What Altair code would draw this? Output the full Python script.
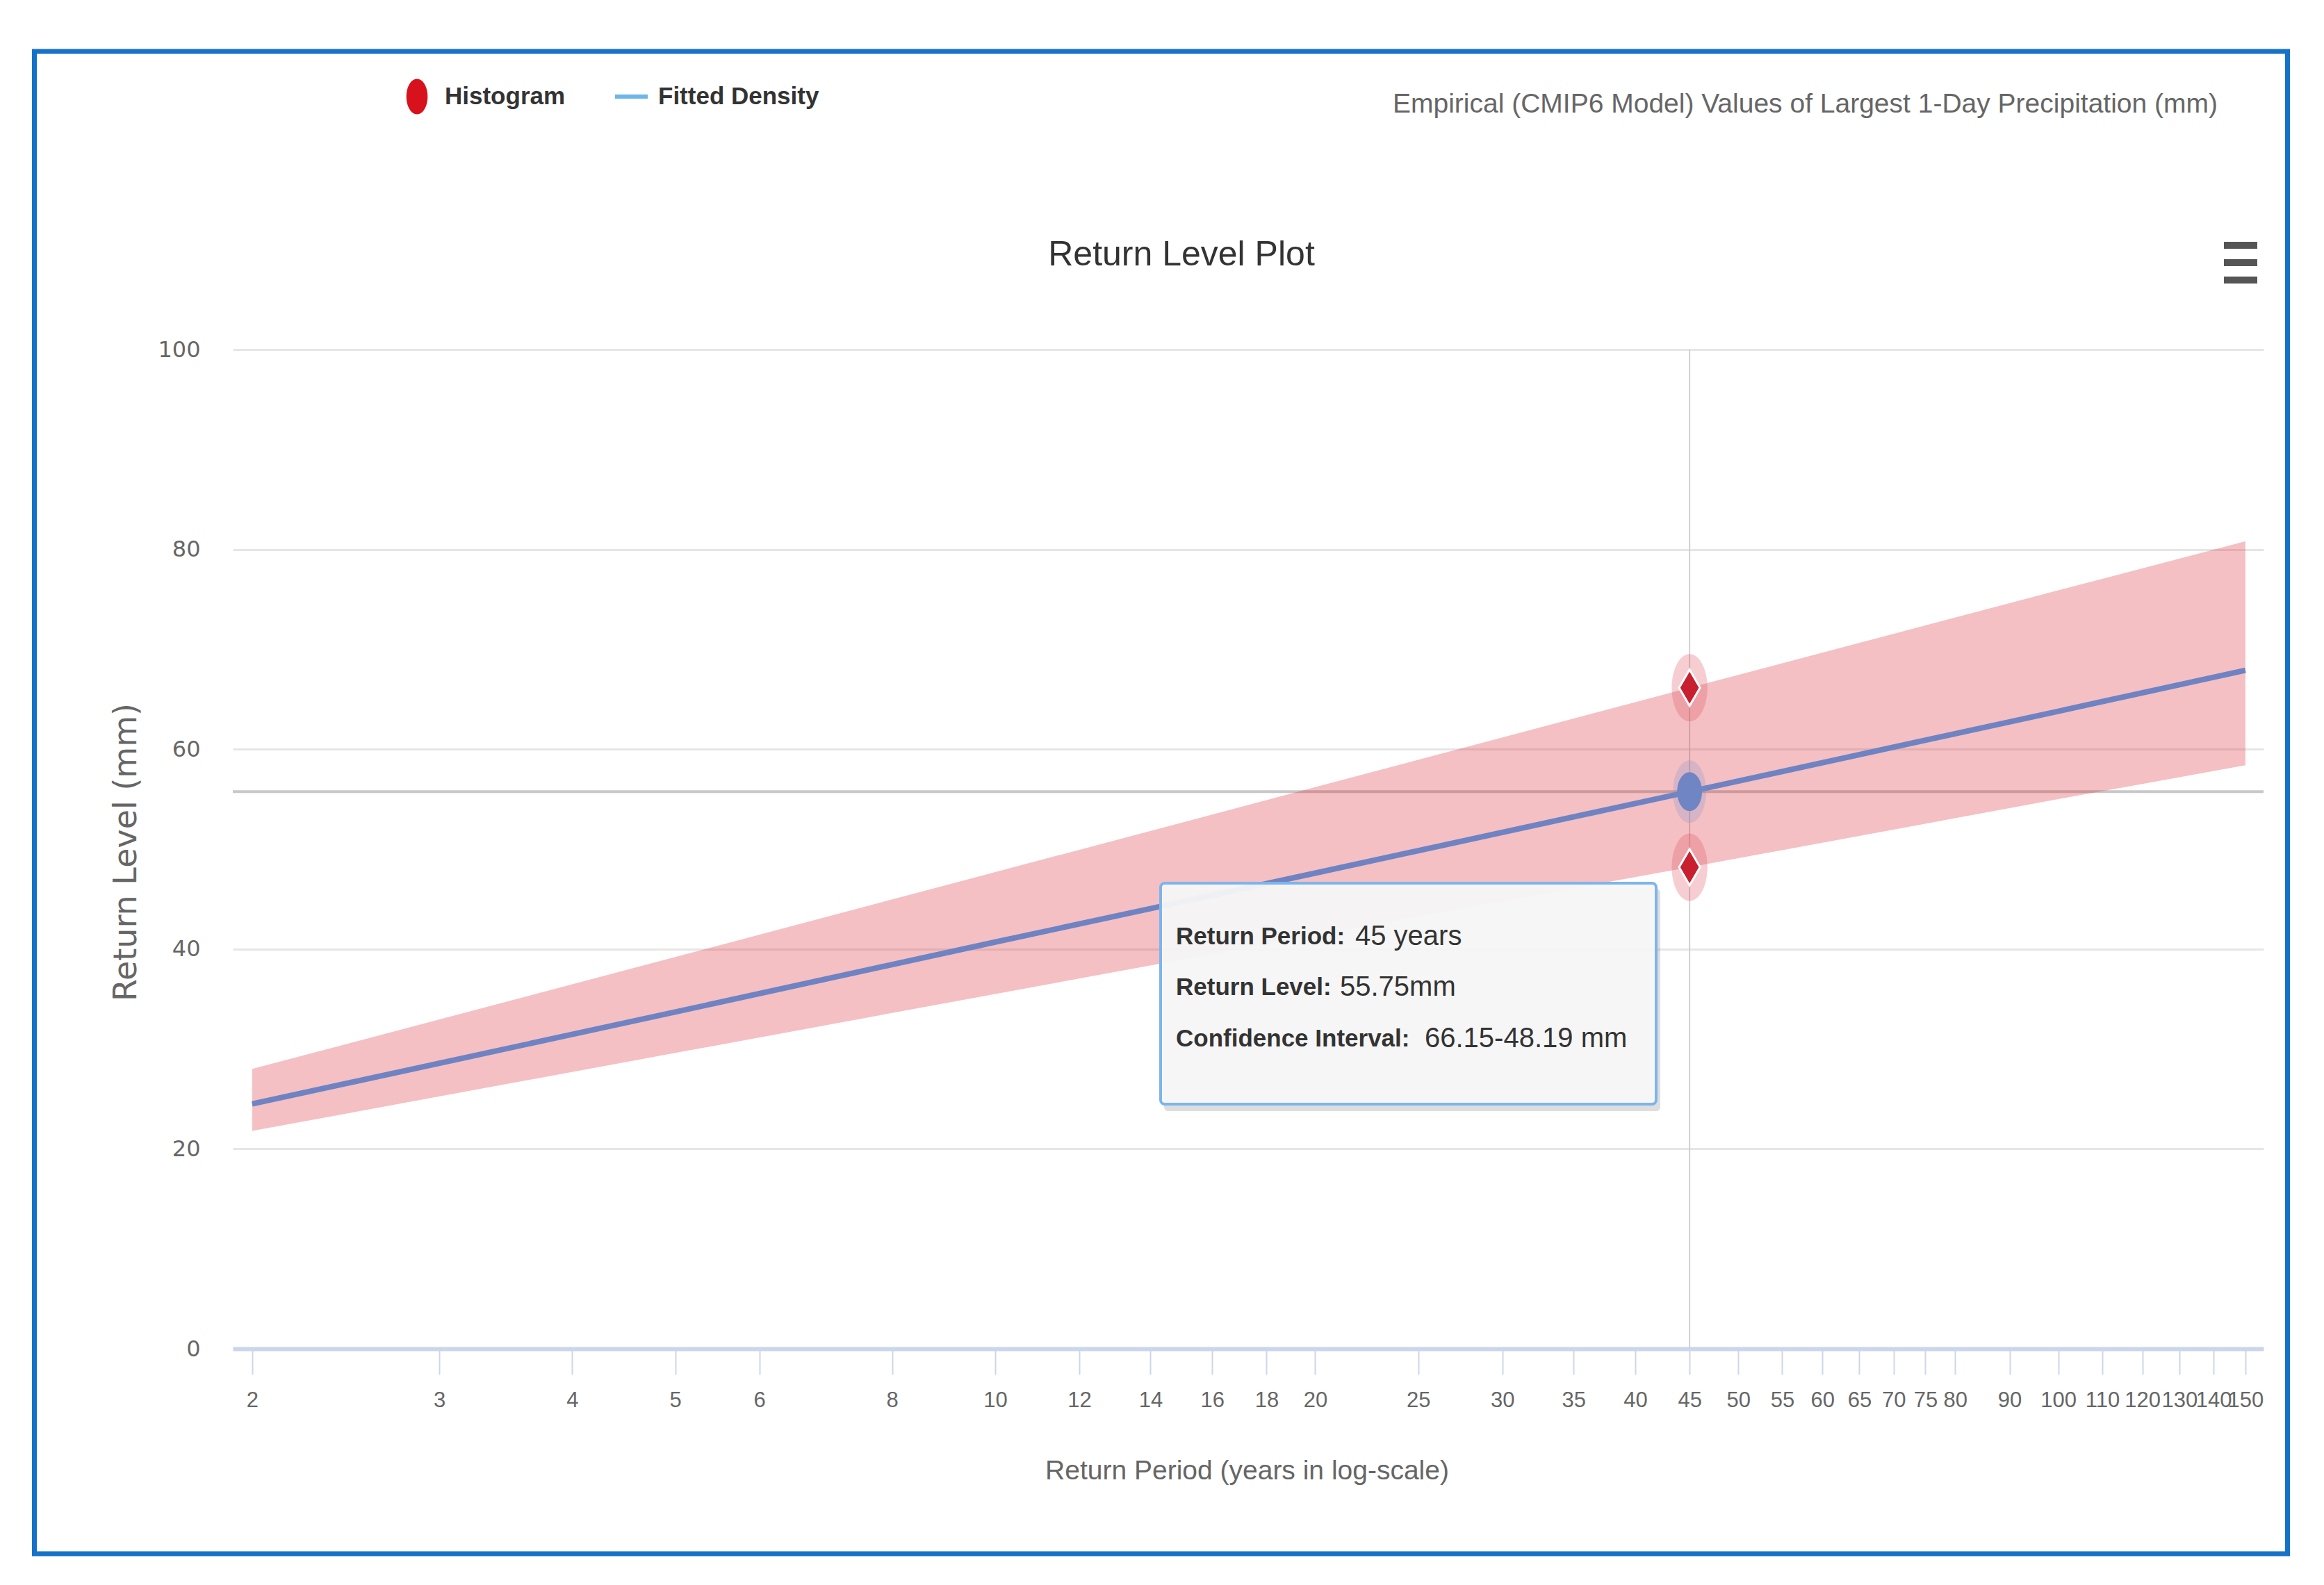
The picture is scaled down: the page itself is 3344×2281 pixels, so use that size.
import altair as alt
import pandas as pd

# ---------------- data ----------------
return_periods = [2, 5, 10, 20, 45, 100, 150]
return_levels = [24.5, 33.7, 40.7, 47.6, 55.75, 63.8, 67.9]
ci_upper = [28.0, 39.2, 47.7, 56.2, 66.15, 75.9, 80.8]
ci_lower = [21.8, 29.6, 35.5, 41.4, 48.19, 55.0, 58.4]

x_ticks = [2, 3, 4, 5, 6, 8, 10, 12, 14, 16, 18, 20, 25, 30, 35, 40, 45, 50,
           55, 60, 65, 70, 75, 80, 90, 100, 110, 120, 130, 140, 150]
y_ticks = [0, 20, 40, 60, 80, 100]

selected_period = 45
selected_level = 55.75
selected_ci = [66.15, 48.19]

title_text = "Return Level Plot"
subtitle_text = "Empirical (CMIP6 Model) Values of Largest 1-Day Precipitation (mm)"
legend_labels = ["Histogram", "Fitted Density"]
x_title = "Return Period (years in log-scale)"
y_title = "Return Level (mm)"
tooltip_labels = ["Return Period:", "Return Level:", "Confidence Interval:"]
tooltip_values = ["45 years", "55.75mm", "66.15-48.19 mm"]

# ---------------- layout / style ----------------
W, H = 2922, 1438
FONT = "Liberation Sans"
GRAY = "#666666"
DARK = "#333333"

xscale = alt.Scale(type="log", domain=[1.918, 156], nice=False)
yscale = alt.Scale(domain=[0, 100], nice=False, zero=False)

xaxis = alt.Axis(values=x_ticks, format="d", title=x_title, labelOverlap=False,
                 labelFlush=False, grid=False, domainColor="#ccd6eb", domainWidth=6,
                 tickColor="#ccd6eb", tickSize=37, tickWidth=2, labelPadding=22,
                 labelFont=FONT, labelFontSize=31, labelColor=GRAY,
                 titleFont=FONT, titleFontSize=39, titleColor=GRAY,
                 titleFontWeight="normal", titleX=1459, titleY=175,
                 titleBaseline="middle", titleAlign="center")
yaxis = alt.Axis(values=y_ticks, title=y_title, grid=True, gridColor="#e6e6e6",
                 gridWidth=3, domain=False, ticks=False, labelPadding=47,
                 labelFont="DejaVu Sans", labelFontSize=32, labelColor=GRAY,
                 titleFont="DejaVu Sans", titleFontSize=46, titleColor=GRAY,
                 titleFontWeight="normal", titleX=-154, titleY=723,
                 titleBaseline="middle", titleAlign="center")

curve = pd.DataFrame({"period": return_periods, "level": return_levels,
                      "upper": ci_upper, "lower": ci_lower})
sel = pd.DataFrame({"period": [selected_period], "level": [selected_level],
                    "top": [100], "bottom": [0]})
ci_pts = pd.DataFrame({"period": [selected_period] * 2, "level": selected_ci})

X = alt.X("period:Q", scale=xscale, axis=xaxis)
Y = lambda f: alt.Y(f"{f}:Q", scale=yscale, axis=yaxis)

HALO = "M0,-1A0.53,1,0,1,1,0,1A0.53,1,0,1,1,0,-1Z"
DOT = "M0,-1A0.64,1,0,1,1,0,1A0.64,1,0,1,1,0,-1Z"
DIAMOND = "M0,-1L0.58,0L0,1L-0.58,0Z"
LEG_DOT = "M0,-1A0.6,1,0,1,1,0,1A0.6,1,0,1,1,0,-1Z"

# crosshair
h_cross = alt.Chart(sel).mark_rule(color="#c8c8c8", strokeWidth=4).encode(y=Y("level"))
v_cross = alt.Chart(sel).mark_rule(color="#d0d0d0", strokeWidth=2).encode(
    x=X, y=Y("top"), y2="bottom:Q")

band = alt.Chart(curve).mark_area(color="#d9303c", opacity=0.3).encode(
    x=X, y=Y("upper"), y2="lower:Q")
line = alt.Chart(curve).mark_line(color="#6f83c2", strokeWidth=8).encode(
    x=X, y=Y("level"))

red_halo = alt.Chart(ci_pts).mark_point(shape=HALO, size=9409, filled=True,
                                        color="#e0505c", opacity=0.28).encode(x=X, y=Y("level"))
blue_halo = alt.Chart(sel).mark_point(shape=HALO, size=8100, filled=True,
                                      color="#8090c8", opacity=0.25).encode(x=X, y=Y("level"))
diamonds = alt.Chart(ci_pts).mark_point(shape=DIAMOND, size=2704, filled=True,
                                        color="#c8202e", stroke="white", strokeWidth=3,
                                        opacity=1).encode(x=X, y=Y("level"))
blue_dot = alt.Chart(sel).mark_point(shape=DOT, size=3136, filled=True,
                                     color="#7085c4", opacity=1).encode(x=X, y=Y("level"))

# frame
frame = alt.Chart(sel).mark_rect(fill="white", fillOpacity=0, stroke="#1672c8",
                                 strokeWidth=7).encode(
    x=alt.value(-285.5), x2=alt.value(2956.5), y=alt.value(-429), y2=alt.value(1733))

# legend
leg_dot = alt.Chart(sel).mark_point(shape=LEG_DOT, size=2601, filled=True,
                                    color="#d7121d", opacity=1).encode(
    x=alt.value(265), y=alt.value(-364))
leg_dash = alt.Chart(sel).mark_rule(color="#6cb6ea", strokeWidth=6).encode(
    x=alt.value(550), x2=alt.value(597), y=alt.value(-364))
leg_txt1 = alt.Chart(sel).mark_text(text=legend_labels[0], font=FONT, fontSize=35,
                                    fontWeight="bold", color=DARK, align="left",
                                    baseline="middle").encode(x=alt.value(305), y=alt.value(-364))
leg_txt2 = alt.Chart(sel).mark_text(text=legend_labels[1], font=FONT, fontSize=35,
                                    fontWeight="bold", color=DARK, align="left",
                                    baseline="middle").encode(x=alt.value(612), y=alt.value(-364))

title = alt.Chart(sel).mark_text(text=title_text, font=FONT, fontSize=50, color=DARK,
                                 align="center", baseline="middle").encode(
    x=alt.value(1365), y=alt.value(-136))
subtitle = alt.Chart(sel).mark_text(text=subtitle_text, font=FONT, fontSize=39, color=GRAY,
                                    align="right", baseline="middle").encode(
    x=alt.value(2856), y=alt.value(-353))

menu = [alt.Chart(sel).mark_rule(color="#555555", strokeWidth=10).encode(
    x=alt.value(2865), x2=alt.value(2913), y=alt.value(yy)) for yy in (-150, -125, -100)]

# tooltip box
shadow = alt.Chart(sel).mark_rect(fill="black", opacity=0.13, cornerRadius=6).encode(
    x=alt.value(1340), x2=alt.value(2054), y=alt.value(776), y2=alt.value(1096))
box = alt.Chart(sel).mark_rect(fill="#f7f7f7", fillOpacity=0.95, stroke="#7cb5ec",
                               strokeWidth=4, cornerRadius=6).encode(
    x=alt.value(1335), x2=alt.value(2048), y=alt.value(768), y2=alt.value(1086))
tip_rows_y = [845, 918, 992]
tip_value_x = [1615, 1593, 1715]
tips = []
for lab, val, yy, vx in zip(tooltip_labels, tooltip_values, tip_rows_y, tip_value_x):
    tips.append(alt.Chart(sel).mark_text(text=lab, font=FONT, fontSize=35, fontWeight="bold",
                                         color=DARK, align="left", baseline="middle").encode(
        x=alt.value(1357), y=alt.value(yy)))
    tips.append(alt.Chart(sel).mark_text(text=val, font=FONT, fontSize=40,
                                         color=DARK, align="left", baseline="middle").encode(
        x=alt.value(vx), y=alt.value(yy)))

chart = alt.layer(
    h_cross, v_cross, band, line, red_halo, blue_halo, diamonds, blue_dot,
    frame, leg_dot, leg_dash, leg_txt1, leg_txt2, title, subtitle, *menu,
    shadow, box, *tips
).properties(
    width=W, height=H,
    autosize=alt.AutoSizeParams(type="none"),
    padding={"left": 327, "top": 495, "right": 60, "bottom": 310},
    background="white",
).configure_view(stroke=None)

chart.save("out.html", embed_options={"renderer": "svg", "actions": False})
